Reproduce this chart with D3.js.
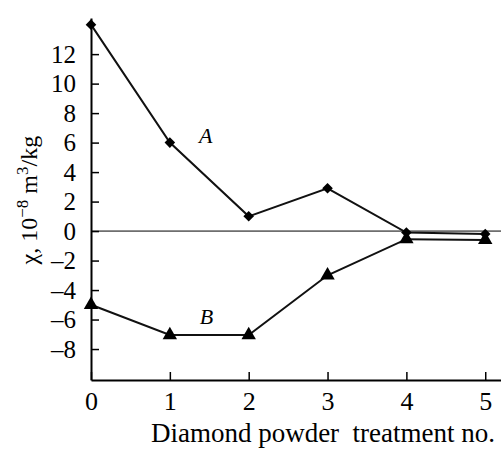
<!DOCTYPE html>
<html>
<head>
<meta charset="utf-8">
<script src="https://cdn.jsdelivr.net/npm/d3@7"></script>
<style>
  body { margin: 0; background: #fff; }
  svg { display: block; }
</style>
</head>
<body>
<svg id="chart" width="501" height="449"></svg>
<script>
// treatment number on the x axis
const treatments = [0, 1, 2, 3, 4, 5];
// susceptibility, 10^-8 m^3/kg
const seriesA = [14, 6, 1, 2.9, -0.1, -0.2];
const seriesB = [-5, -7.05, -7.05, -3.0, -0.55, -0.6];
const yTicks = [-8, -6, -4, -2, 0, 2, 4, 6, 8, 10, 12];
const xTicks = [0, 1, 2, 3, 4, 5];

const serif = "'Liberation Serif', 'DejaVu Serif', serif";
const svg = d3.select("#chart");

const x = d3.scaleLinear().domain([0, 5.2]).range([91, 501]);
const y = d3.scaleLinear().domain([-10.1, 14.45]).range([380, 18]);

// axes with inward ticks
const xAxis = svg.append("g")
  .attr("transform", `translate(0,${y(-10.1)})`)
  .call(d3.axisBottom(x).tickValues(xTicks).tickSizeInner(-8).tickSizeOuter(0).tickPadding(12)
    .tickFormat(d3.format("d")));

const yAxis = svg.append("g")
  .attr("transform", `translate(${x(0)},0)`)
  .call(d3.axisLeft(y).tickValues(yTicks).tickSizeInner(-8).tickSizeOuter(0).tickPadding(15)
    .tickFormat((d) => (d < 0 ? "\u2013" + Math.abs(d) : d)));

[xAxis, yAxis].forEach((g) => {
  g.attr("font-family", serif);
  g.select(".domain").attr("stroke-width", 2);
  g.selectAll(".tick line").attr("stroke-width", 1.5);
  g.selectAll(".tick text").attr("fill", "#000")
    .style("font-family", serif).style("font-size", "25px");
});
xAxis.selectAll(".tick text").style("font-size", "26px");

// zero line
svg.append("line")
  .attr("x1", x(0)).attr("x2", x(5.2))
  .attr("y1", y(0)).attr("y2", y(0))
  .attr("stroke", "#000").attr("stroke-width", 1);

const line = d3.line().x((d) => x(d[0])).y((d) => y(d[1]));

function drawSeries(values, symbolType, size, rot) {
  const pts = treatments.map((t, i) => [t, values[i]]);
  svg.append("path")
    .datum(pts)
    .attr("d", line)
    .attr("fill", "none")
    .attr("stroke", "#111")
    .attr("stroke-width", 2);
  svg.selectAll(null)
    .data(pts)
    .enter()
    .append("path")
    .attr("d", d3.symbol().type(symbolType).size(size))
    .attr("transform", (d) => `translate(${x(d[0])},${y(d[1])}) rotate(${rot})`)
    .attr("fill", "#000");
}

drawSeries(seriesA, d3.symbolSquare, 56, 45);
drawSeries(seriesB, d3.symbolTriangle, 90, 0);

// series labels
svg.append("text")
  .attr("x", x(1.37)).attr("y", y(6.0))
  .style("font-family", serif).style("font-style", "italic").style("font-size", "22px")
  .text("A");
svg.append("text")
  .attr("x", x(1.38)).attr("y", y(-6.3))
  .style("font-family", serif).style("font-style", "italic").style("font-size", "22px")
  .text("B");

// x axis title
svg.append("text")
  .attr("x", 323).attr("y", 442)
  .attr("text-anchor", "middle")
  .style("font-family", serif).style("font-size", "27px")
  .style("white-space", "pre")
  .text("Diamond powder  treatment no.");

// y axis title
const yt = svg.append("text")
  .attr("transform", `translate(37,${y(2.1)}) rotate(-90)`)
  .attr("text-anchor", "middle")
  .style("font-family", serif).style("font-size", "24px");
yt.append("tspan").text("\u03c7, 10");
yt.append("tspan").attr("dy", -9).style("font-size", "17px").text("\u22128");
yt.append("tspan").attr("dy", 9).text(" m");
yt.append("tspan").attr("dy", -9).style("font-size", "17px").text("3");
yt.append("tspan").attr("dy", 9).text("/kg");
</script>
</body>
</html>
